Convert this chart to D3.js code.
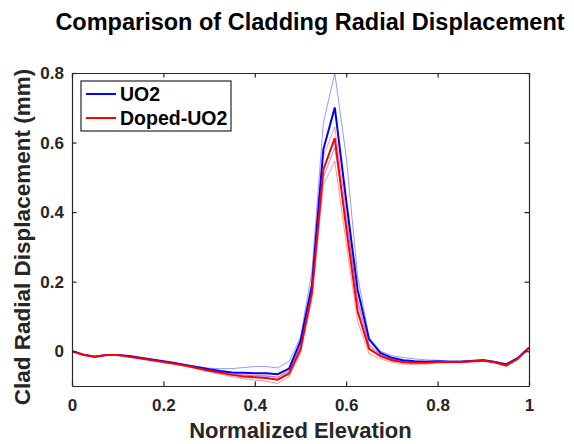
<!DOCTYPE html>
<html>
<head>
<meta charset="utf-8">
<script src="https://cdn.jsdelivr.net/npm/d3@7"></script>
<style>
  body { margin: 0; background: #fff; }
  text { font-family: "Liberation Sans", Arial, sans-serif; font-weight: bold; }
</style>
</head>
<body>
<div id="chart"></div>
<script>
// data
var elevation = [0, 0.025, 0.05, 0.075, 0.1, 0.125, 0.15, 0.175, 0.2, 0.225,
  0.25, 0.275, 0.3, 0.325, 0.35, 0.375, 0.4, 0.425, 0.45, 0.475,
  0.5, 0.525, 0.55, 0.575, 0.6, 0.625, 0.65, 0.675, 0.7, 0.725,
  0.75, 0.775, 0.8, 0.825, 0.85, 0.875, 0.9, 0.925, 0.95, 0.975, 1];

var uo2 = [0, -0.010, -0.016, -0.011, -0.011, -0.014, -0.019, -0.024, -0.029, -0.034,
  -0.040, -0.046, -0.052, -0.057, -0.061, -0.062, -0.063, -0.063, -0.066, -0.050,
  0.029, 0.19, 0.58, 0.701, 0.433, 0.177, 0.034, -0.005, -0.019, -0.026,
  -0.029, -0.030, -0.029, -0.030, -0.030, -0.028, -0.026, -0.031, -0.038, -0.020, 0.010];

var uo2High = [0, -0.010, -0.016, -0.011, -0.011, -0.014, -0.019, -0.024, -0.029, -0.034,
  -0.039, -0.044, -0.049, -0.050, -0.050, -0.047, -0.044, -0.044, -0.048, -0.029,
  0.040, 0.23, 0.656, 0.80, 0.56, 0.216, 0.040, 0.000, -0.013, -0.018,
  -0.022, -0.025, -0.026, -0.028, -0.028, -0.026, -0.024, -0.029, -0.036, -0.019, 0.010];

var uo2Low = [0, -0.010, -0.016, -0.011, -0.011, -0.015, -0.020, -0.025, -0.030, -0.035,
  -0.041, -0.047, -0.054, -0.060, -0.066, -0.069, -0.071, -0.072, -0.075, -0.058,
  0.015, 0.175, 0.50, 0.585, 0.38, 0.15, 0.020, -0.010, -0.023, -0.029,
  -0.032, -0.033, -0.031, -0.031, -0.031, -0.029, -0.027, -0.032, -0.040, -0.021, 0.010];

var doped = [0, -0.010, -0.016, -0.011, -0.011, -0.016, -0.021, -0.026, -0.031, -0.036,
  -0.042, -0.049, -0.056, -0.062, -0.068, -0.073, -0.075, -0.077, -0.082, -0.064,
  0.005, 0.168, 0.522, 0.613, 0.355, 0.115, 0.007, -0.014, -0.026, -0.032,
  -0.033, -0.033, -0.031, -0.031, -0.031, -0.029, -0.027, -0.032, -0.041, -0.022, 0.010];

var dopedHigh = [0, -0.010, -0.016, -0.011, -0.011, -0.015, -0.020, -0.025, -0.030, -0.035,
  -0.041, -0.047, -0.053, -0.058, -0.063, -0.067, -0.069, -0.070, -0.074, -0.055,
  0.015, 0.18, 0.56, 0.645, 0.40, 0.14, 0.015, -0.010, -0.022, -0.028,
  -0.031, -0.032, -0.030, -0.030, -0.030, -0.028, -0.026, -0.031, -0.039, -0.021, 0.010];

var dopedLow = [0, -0.010, -0.016, -0.011, -0.011, -0.016, -0.021, -0.026, -0.032, -0.038,
  -0.044, -0.051, -0.059, -0.066, -0.073, -0.079, -0.083, -0.086, -0.093, -0.073,
  -0.005, 0.15, 0.479, 0.546, 0.31, 0.085, -0.008, -0.022, -0.032, -0.037,
  -0.038, -0.037, -0.034, -0.033, -0.033, -0.031, -0.029, -0.034, -0.044, -0.024, 0.010];

var xTicks = [0, 0.2, 0.4, 0.6, 0.8, 1];
var yTicks = [0, 0.2, 0.4, 0.6, 0.8];

var W = 574, H = 444;
var margin = {top: 73, right: 45, bottom: 58, left: 72};
var width = W - margin.left - margin.right,
    height = H - margin.top - margin.bottom;

var svg = d3.select("#chart").append("svg")
    .attr("width", W)
    .attr("height", H);

var x = d3.scaleLinear().domain([0, 1]).range([0, width]);
var y = d3.scaleLinear().domain([-0.1, 0.8]).range([height, 0]);

var g = svg.append("g")
    .attr("transform", "translate(" + margin.left + "," + margin.top + ")");

g.append("clipPath").attr("id", "clip")
  .append("rect").attr("width", width).attr("height", height);

var line = d3.line()
    .x(function(d, i) { return x(elevation[i]); })
    .y(function(d) { return y(d); });

var plot = g.append("g").attr("clip-path", "url(#clip)");

// thin spread lines first, then the main curves
[[uo2High, "#0000ff"], [uo2Low, "#0000ff"], [dopedHigh, "#ff0000"], [dopedLow, "#ff0000"]]
  .forEach(function(s) {
    plot.append("path")
      .attr("d", line(s[0]))
      .attr("fill", "none")
      .attr("stroke", s[1])
      .attr("stroke-opacity", 0.45)
      .attr("stroke-width", 0.9);
  });

plot.append("path").attr("d", line(uo2))
  .attr("fill", "none").attr("stroke", "#0000ff").attr("stroke-width", 2);
plot.append("path").attr("d", line(doped))
  .attr("fill", "none").attr("stroke", "#ff0000").attr("stroke-width", 2);

// axes, MATLAB style: ticks inside, box all round
var axisColor = "#262626";
var tl = 4.5;

var xAxis = g.append("g").attr("transform", "translate(0," + height + ")")
  .call(d3.axisBottom(x).tickValues(xTicks).tickSizeInner(-tl).tickSizeOuter(0).tickPadding(13)
    .tickFormat(function(d) { return d === 0 || d === 1 ? d3.format("d")(d) : d3.format(".1f")(d); }));
var xTop = g.append("g")
  .call(d3.axisTop(x).tickValues(xTicks).tickSizeInner(-tl).tickSizeOuter(0).tickFormat(""));
var yAxis = g.append("g")
  .call(d3.axisLeft(y).tickValues(yTicks).tickSizeInner(-tl).tickSizeOuter(0).tickPadding(8)
    .tickFormat(function(d) { return d === 0 ? "0" : d3.format(".1f")(d); }));
var yRight = g.append("g").attr("transform", "translate(" + width + ",0)")
  .call(d3.axisRight(y).tickValues(yTicks).tickSizeInner(-tl).tickSizeOuter(0).tickFormat(""));

[xAxis, xTop, yAxis, yRight].forEach(function(a) {
  a.select(".domain").attr("stroke", axisColor).attr("stroke-width", 1.2);
  a.selectAll(".tick line").attr("stroke", axisColor).attr("stroke-width", 1.2);
  a.selectAll(".tick text").attr("fill", "#262626").style("font-size", "17px")
    .style("font-family", "'Liberation Sans', Arial, sans-serif").style("font-weight", "bold");
});

// title and axis labels
svg.append("text")
  .attr("x", 310).attr("y", 30)
  .attr("text-anchor", "middle")
  .style("font-size", "23.5px")
  .text("Comparison of Cladding Radial Displacement");

svg.append("text")
  .attr("x", margin.left + width / 2).attr("y", 438)
  .attr("text-anchor", "middle")
  .style("font-size", "22px")
  .attr("fill", "#262626")
  .text("Normalized Elevation");

svg.append("text")
  .attr("transform", "translate(30,237) rotate(-90)")
  .attr("text-anchor", "middle")
  .style("font-size", "22.5px")
  .attr("fill", "#262626")
  .text("Clad Radial Displacement (mm)");

// legend
var legend = g.append("g").attr("transform", "translate(9,8)");
legend.append("rect")
  .attr("width", 150).attr("height", 50)
  .attr("fill", "#fff").attr("stroke", axisColor).attr("stroke-width", 1.2);

var legendItems = [["UO2", "#0000ff"], ["Doped-UO2", "#ff0000"]];
legendItems.forEach(function(d, i) {
  var ly = 13 + i * 24;
  legend.append("line")
    .attr("x1", 5).attr("x2", 35).attr("y1", ly).attr("y2", ly)
    .attr("stroke", d[1]).attr("stroke-width", 2);
  legend.append("text")
    .attr("x", 39).attr("y", ly + 7)
    .style("font-size", "19.5px")
    .text(d[0]);
});
</script>
</body>
</html>
